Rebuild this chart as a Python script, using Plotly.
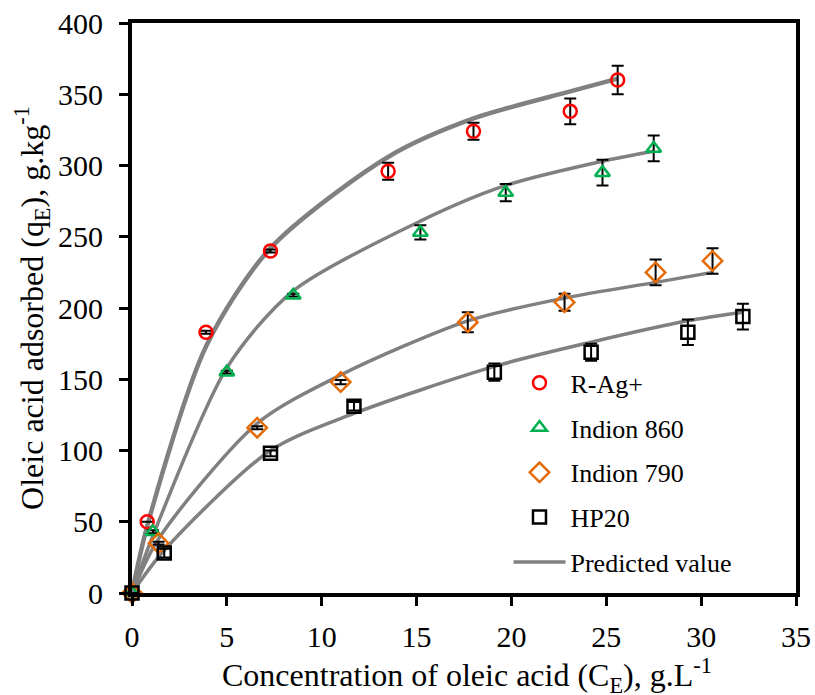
import plotly.graph_objects as go

# ---- data ----
series_names = ["R-Ag+", "Indion 860", "Indion 790", "HP20"]

x_rag = [0, 0.8, 3.9, 7.3, 13.5, 18.0, 23.1, 25.6]
y_rag = [0, 50, 183, 240, 296, 324, 338, 360]
e_rag = [0, 0, 1, 1, 6, 6, 9, 10]
p_rag = [0, 47, 173, 242, 306, 333, 352, 361]

x_860 = [0, 1.1, 5.0, 8.5, 15.2, 19.7, 24.8, 27.5]
y_860 = [0, 43, 155, 209, 253, 281, 295, 312]
e_860 = [0, 1, 1, 1, 5, 6, 9, 9]
p_860 = [0, 40, 158, 212, 261, 286, 303, 310]

x_790 = [0, 1.4, 6.6, 11.0, 17.7, 22.8, 27.6, 30.6]
y_790 = [0, 35, 116, 148, 190, 204, 225, 233]
e_790 = [0, 1, 1, 1.5, 7, 6, 9, 9]
p_790 = [0, 38, 119, 153, 191, 207, 218, 225]

x_hp = [0, 1.7, 7.3, 11.7, 19.1, 24.2, 29.3, 32.2]
y_hp = [0, 28, 98, 131, 155, 169, 183, 194]
e_hp = [0, 3, 2, 3, 6, 6, 9, 9]
p_hp = [0, 30, 100, 126, 159, 176, 191, 197]

x_ticks = [0, 5, 10, 15, 20, 25, 30, 35]
y_ticks = [0, 50, 100, 150, 200, 250, 300, 350, 400]

x_title = "Concentration of oleic acid (C<sub>E</sub>), g.L<sup>-1</sup>"
y_title = "Oleic acid adsorbed (q<sub>E</sub>), g.kg<sup>-1</sup>"

FONT = "Liberation Serif"
GRAY = "#808080"

fig = go.Figure()

# predicted curves
pred = [(x_rag, p_rag, 4.5), (x_860, p_860, 3.5), (x_790, p_790, 3.5), (x_hp, p_hp, 3.5)]
for i, (xx, pp, w) in enumerate(pred):
    fig.add_trace(go.Scatter(
        x=xx, y=pp, mode="lines",
        line=dict(color=GRAY, width=w, shape="spline", smoothing=0.8),
        name="Predicted value", showlegend=(i == 1),
        legendgroup="pred", legendrank=5, cliponaxis=False,
    ))

markers = [
    (x_rag, y_rag, e_rag, "circle-open", "#FF0000", 13),
    (x_860, y_860, e_860, "triangle-up-open", "#00B050", 13),
    (x_790, y_790, e_790, "diamond-open", "#E36C09", 15),
    (x_hp, y_hp, e_hp, "square-open", "#000000", 13),
]
for k, (xx, yy, ee, sym, col, sz) in enumerate(markers):
    fig.add_trace(go.Scatter(
        x=xx, y=yy, mode="markers", name=series_names[k],
        marker=dict(symbol=sym, color=col, size=sz, line=dict(width=2.5, color=col)),
        error_y=dict(type="data", array=ee, visible=True, color="black",
                     thickness=2, width=6),
        legendgroup="g%d" % k, legendrank=k + 1, cliponaxis=False,
    ))

axis_common = dict(
    showline=True, linecolor="black", linewidth=4, mirror=True,
    ticks="outside", ticklen=9, tickwidth=3, tickcolor="black",
    showgrid=False, zeroline=False, automargin=False,
    tickfont=dict(family=FONT, size=30, color="black"),
)

fig.update_layout(
    width=815, height=695,
    margin=dict(l=132, r=19, t=23, b=102, autoexpand=False),
    paper_bgcolor="white", plot_bgcolor="white",
    font=dict(family=FONT, color="black"),
    xaxis=dict(range=[0, 35], tickvals=x_ticks, ticklabelstandoff=5,
               **axis_common),
    yaxis=dict(range=[0, 400], tickvals=y_ticks, ticklabelstandoff=10,
               title=dict(text=y_title, font=dict(family=FONT, size=32), standoff=6),
               **axis_common),
    legend=dict(x=0.567, y=0.41, xanchor="left", yanchor="top",
                font=dict(family=FONT, size=26, color="black"),
                bgcolor="rgba(0,0,0,0)", tracegroupgap=8, itemwidth=52,
                traceorder="grouped"),
    showlegend=True,
    annotations=[dict(text=x_title, xref="paper", yref="paper", x=0.5045, y=-0.145,
                      xanchor="center", yanchor="middle", showarrow=False,
                      font=dict(family=FONT, size=32, color="black"))],
)

fig.write_html("out.html")
